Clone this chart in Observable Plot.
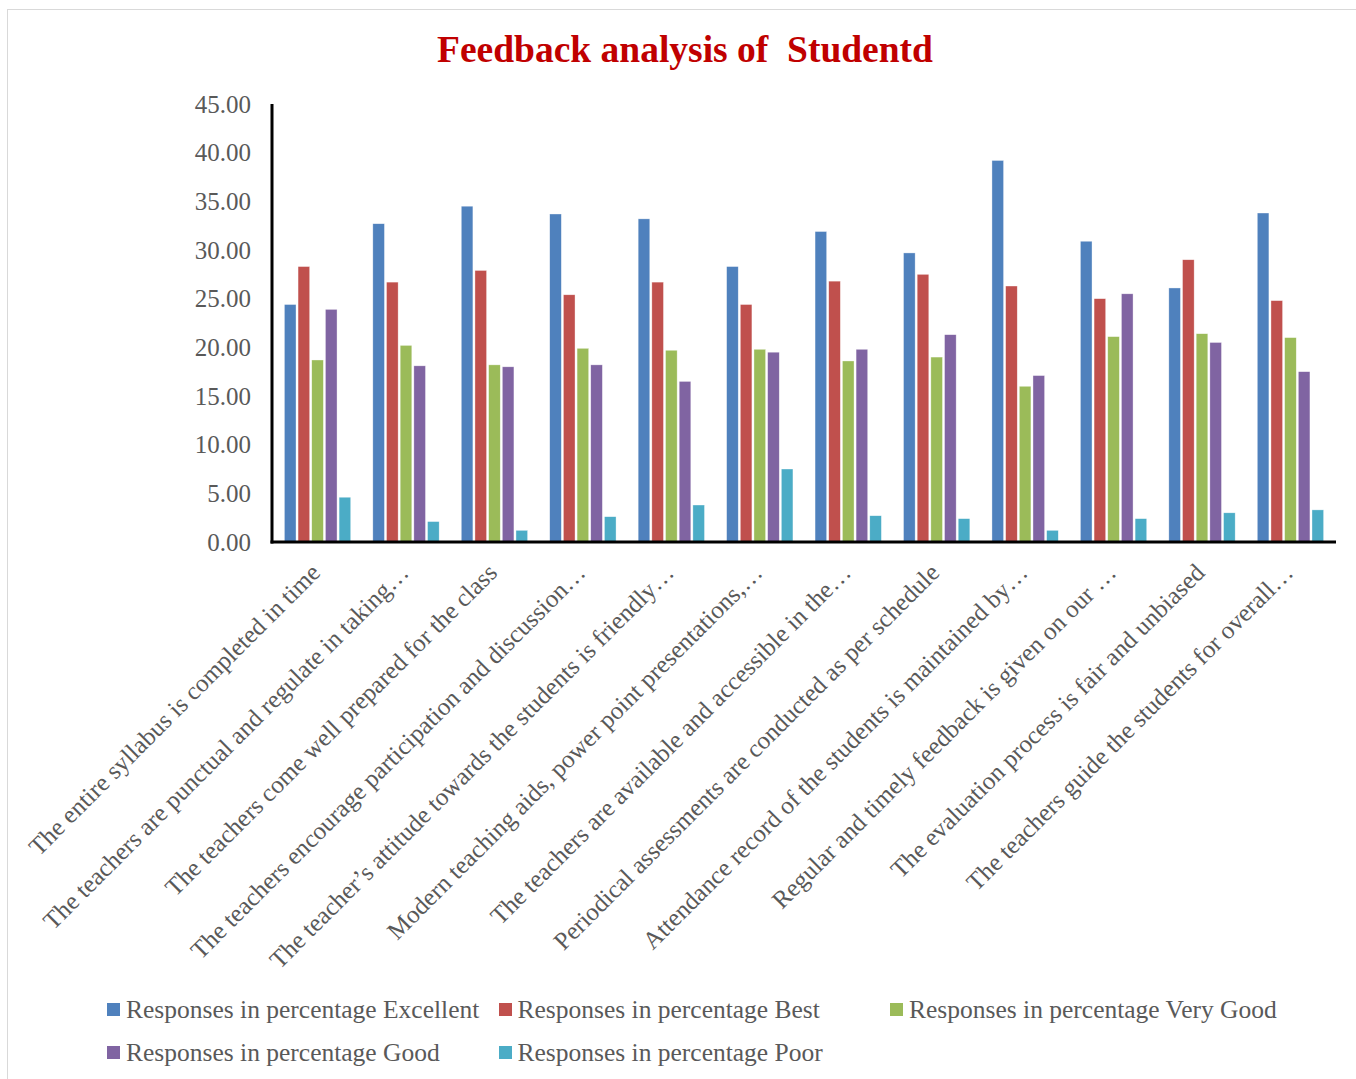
<!DOCTYPE html>
<html>
<head>
<meta charset="utf-8">
<script src="https://cdn.jsdelivr.net/npm/d3@7"></script>
<script src="https://cdn.jsdelivr.net/npm/@observablehq/plot@0.6"></script>
<style>
  html, body { margin: 0; padding: 0; background: #fff; }
  body { width: 1356px; height: 1079px; position: relative; overflow: hidden; font-family: "Liberation Serif", serif; }
  #frame { position: absolute; left: 7px; top: 9px; width: 1400px; height: 1200px; border: 1.5px solid #d9d9d9; box-sizing: border-box; }
  #title { position: absolute; top: 28px; left: 0; width: 1370px; text-align: center; white-space: pre;
           font-family: "Liberation Serif", serif; font-weight: bold; font-size: 37.5px; color: #C00000; }
  #chart { position: absolute; left: 0; top: 90px; }
  #legend { position: absolute; left: 107px; top: 988px; display: grid; grid-template-columns: repeat(3, 391.5px); grid-auto-rows: 43px; }
  .item { display: flex; align-items: center; font-size: 25.5px; color: #595959; white-space: nowrap; }
  .sw { width: 13px; height: 13px; margin-right: 6px; flex: none; }
</style>
</head>
<body>
<div id="frame"></div>
<div id="title">Feedback analysis of  Studentd</div>
<div id="chart"></div>
<div id="legend"></div>
<script>
const categories = [
  "The entire syllabus is completed in time",
  "The teachers are punctual and regulate in taking…",
  "The teachers come well prepared for the class",
  "The teachers encourage participation and discussion…",
  "The teacher’s attitude towards the students is friendly…",
  "Modern teaching aids, power point presentations,…",
  "The teachers are available and accessible in the…",
  "Periodical assessments are conducted as per schedule",
  "Attendance record of the students is maintained by…",
  "Regular and timely feedback is given on our …",
  "The evaluation process is fair and unbiased",
  "The teachers guide the students for overall…"
];
const seriesNames = [
  "Responses in percentage Excellent",
  "Responses in percentage Best",
  "Responses in percentage Very Good",
  "Responses in percentage Good",
  "Responses in percentage Poor"
];
const seriesColors = ["#4F81BD", "#C0504D", "#9BBB59", "#8064A2", "#4BACC6"];
const excellent = [24.4, 32.7, 34.5, 33.7, 33.2, 28.3, 31.9, 29.7, 39.2, 30.9, 26.1, 33.8];
const best      = [28.3, 26.7, 27.9, 25.4, 26.7, 24.4, 26.8, 27.5, 26.3, 25.0, 29.0, 24.8];
const veryGood  = [18.7, 20.2, 18.2, 19.9, 19.7, 19.8, 18.6, 19.0, 16.0, 21.1, 21.4, 21.0];
const good      = [23.9, 18.1, 18.0, 18.2, 16.5, 19.5, 19.8, 21.3, 17.1, 25.5, 20.5, 17.5];
const poor      = [4.6, 2.1, 1.2, 2.6, 3.8, 7.5, 2.7, 2.4, 1.2, 2.4, 3.0, 3.3];
const yTicks = [0, 5, 10, 15, 20, 25, 30, 35, 40, 45];

const seriesValues = [excellent, best, veryGood, good, poor];
const data = [];
categories.forEach((c, i) => {
  seriesNames.forEach((s, j) => data.push({cat: c, series: s, value: seriesValues[j][i]}));
});

const W = 1356, H = 890, mL = 272, mR = 20, mT = 14, mB = 438;
const tickFont = "'Liberation Serif', serif";

const chart = Plot.plot({
  width: W, height: H,
  marginLeft: mL, marginRight: mR, marginTop: mT, marginBottom: mB,
  style: {fontFamily: tickFont, color: "#595959", background: "transparent", overflow: "visible"},
  fx: {domain: categories, paddingInner: 0.25, paddingOuter: 0.14, round: false},
  x: {domain: seriesNames, paddingInner: 0.15, paddingOuter: 0, round: false, axis: null},
  y: {domain: [0, 45]},
  color: {domain: seriesNames, range: seriesColors},
  marks: [
    Plot.barY(data, {fx: "cat", x: "series", y: "value", fill: "series", stroke: "white", strokeWidth: 0.6, strokeOpacity: 0.6}),
    Plot.axisY({ticks: yTicks, tickFormat: d3.format(".2f"), tickSize: 0, tickPadding: 34, fontSize: 25, label: null}),
    Plot.axisFx({anchor: "bottom", tickRotate: -45, tickSize: 0, tickPadding: 26, dx: -2, fontSize: 25, label: null})
  ]
});
document.getElementById("chart").appendChild(chart);

// axis lines along the plot's scales
const ys = chart.scale("y");
const svg = d3.select(chart);
const y0 = ys.apply(0), yTop = ys.apply(45);
svg.append("line").attr("x1", mL).attr("x2", mL).attr("y1", yTop).attr("y2", y0 + 1.5)
  .attr("stroke", "black").attr("stroke-width", 3);
svg.append("line").attr("x1", mL - 1.5).attr("x2", W - mR).attr("y1", y0).attr("y2", y0)
  .attr("stroke", "black").attr("stroke-width", 3);

// legend
const legend = d3.select("#legend");
seriesNames.forEach((s, i) => {
  const it = legend.append("div").attr("class", "item");
  it.append("div").attr("class", "sw").style("background", seriesColors[i]);
  it.append("span").text(s);
});
</script>
</body>
</html>
